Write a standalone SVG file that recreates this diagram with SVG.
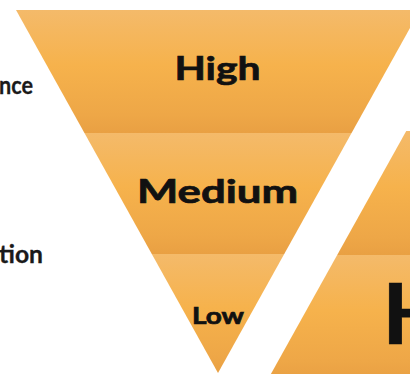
<svg xmlns="http://www.w3.org/2000/svg" width="410" height="374" viewBox="0 0 410 374">
  <defs>
    <linearGradient id="band" x1="0" y1="0" x2="0" y2="1">
      <stop offset="0" stop-color="#F4BA6A"/>
      <stop offset="0.45" stop-color="#F6B24C"/>
      <stop offset="0.85" stop-color="#EEA747"/>
      <stop offset="1" stop-color="#E9A043"/>
    </linearGradient>
    <clipPath id="triLeft">
      <polygon points="16,10 420,10 218,373"/>
    </clipPath>
    <clipPath id="triRight">
      <polygon points="412.3,120 270.9,374 420,374 420,120"/>
    </clipPath>
  </defs>
  <style>
    .band { fill: url(#band); }
    .lbl { font-family: Lato, "Liberation Sans", sans-serif; font-weight: 700; fill: #111111; stroke: #111111; stroke-width: 0.7; }
    .side { font-family: Lato, "Liberation Sans", sans-serif; font-weight: 700; fill: #1a1a1a; stroke: #1a1a1a; stroke-width: 0.3; }
  </style>
  <rect width="410" height="374" fill="#FFFFFF"/>

  <g id="left-pyramid" clip-path="url(#triLeft)">
    <g id="band-high">
      <rect class="band" x="0" y="10" width="420" height="123"/>
    </g>
    <g id="band-medium">
      <rect class="band" x="0" y="133" width="420" height="121"/>
    </g>
    <g id="band-low">
      <rect class="band" x="0" y="254" width="420" height="120"/>
    </g>
  </g>

  <g id="right-pyramid" clip-path="url(#triRight)">
    <rect class="band" x="260" y="131" width="160" height="124"/>
    <rect class="band" x="260" y="255" width="160" height="124"/>
  </g>

  <g id="labels">
    <text class="lbl" x="217.5" y="80" font-size="32" text-anchor="middle" textLength="86" lengthAdjust="spacingAndGlyphs">High</text>
    <text class="lbl" x="217.5" y="203" font-size="32" text-anchor="middle" textLength="161" lengthAdjust="spacingAndGlyphs">Medium</text>
    <text class="lbl" x="218" y="323.5" font-size="22.5" text-anchor="middle" textLength="52" lengthAdjust="spacingAndGlyphs">Low</text>
    <text class="lbl" x="382" y="344" font-size="84" textLength="70" lengthAdjust="spacingAndGlyphs">H</text>
    <text class="side" x="-1" y="93.5" font-size="25" textLength="34" lengthAdjust="spacingAndGlyphs">nce</text>
    <text class="side" x="-1" y="262.5" font-size="24" textLength="44" lengthAdjust="spacingAndGlyphs">tion</text>
  </g>
</svg>
